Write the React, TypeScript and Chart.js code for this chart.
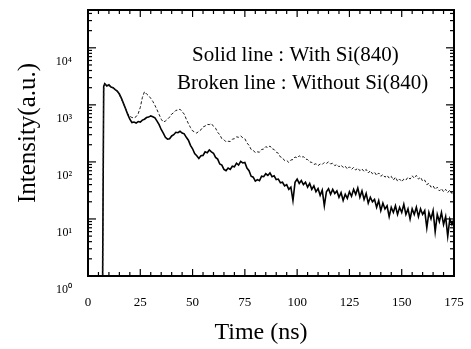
import React, { useEffect, useRef } from "react";
import { Chart, registerables } from "chart.js";

Chart.register(...registerables);

// ---- data ----
const TIME = [
  7, 7.5, 8, 9, 10, 11, 12, 13, 14, 15, 16, 17, 18, 19, 20, 21, 22, 23, 24, 25, 26, 27, 28, 29, 30,
  31, 32, 33, 34, 35, 36, 37, 38, 39, 40, 41, 42, 43, 44, 45, 46, 47, 48, 49, 50, 51, 52, 53, 54, 55,
  56, 57, 58, 59, 60, 61, 62, 63, 64, 65, 66, 67, 68, 69, 70, 71, 72, 73, 74, 75, 76, 77, 78, 79, 80,
  81, 82, 83, 84, 85, 86, 87, 88, 89, 90, 91, 92, 93, 94, 95, 96, 97, 98, 99, 100, 101, 102, 103, 104, 105,
  106, 107, 108, 109, 110, 111, 112, 113, 114, 115, 116, 117, 118, 119, 120, 121, 122, 123, 124, 125, 126, 127, 128, 129, 130,
  131, 132, 133, 134, 135, 136, 137, 138, 139, 140, 141, 142, 143, 144, 145, 146, 147, 148, 149, 150, 151, 152, 153, 154, 155,
  156, 157, 158, 159, 160, 161, 162, 163, 164, 165, 166, 167, 168, 169, 170, 171, 172, 173, 174, 175,
];

const SOLID = [
  1, 2100, 2350, 2150, 2250, 2050, 2000, 1850, 1750, 1550, 1300, 1050, 850, 680, 560, 490, 500, 480, 510, 500, 540, 560, 600, 610, 640,
  620, 590, 520, 450, 370, 320, 270, 250, 255, 285, 300, 330, 325, 345, 320, 310, 270, 240, 195, 170, 140, 128, 115, 128, 130,
  150, 145, 162, 150, 142, 120, 112, 92, 88, 74, 70, 78, 74, 84, 82, 95, 88, 102, 96, 98, 78, 70, 56, 54, 46,
  49, 47, 56, 55, 62, 58, 64, 55, 57, 49, 50, 43, 44, 38, 40, 33, 36, 21, 44, 50, 42, 47, 40, 44, 36,
  42, 33, 38, 30, 34, 26, 32, 17, 30, 34, 27, 33, 28, 31, 24, 29, 21, 27, 23, 30, 25, 33, 27, 35, 24,
  31, 22, 28, 19, 24, 20, 22, 16, 21, 14, 19, 15, 17, 11, 16, 13, 17, 12, 16, 13, 18, 12, 15, 10, 15,
  12, 16, 11, 15, 12, 14, 7, 13, 10, 14, 6, 12, 9, 13, 8, 11, 5, 10, 8, 10,
];

const BROKEN = [
  1, 1900, 2300, 2250, 2150, 2100, 1950, 1850, 1700, 1500, 1250, 1050, 850, 700, 630, 600, 590, 620, 700, 900, 1350, 1700, 1550, 1450, 1300,
  1150, 980, 820, 680, 560, 500, 520, 560, 610, 690, 730, 800, 810, 840, 760, 690, 560, 470, 400, 350, 335, 320, 345, 365, 410,
  425, 455, 450, 470, 420, 390, 330, 300, 255, 245, 225, 230, 228, 250, 255, 275, 270, 285, 265, 255, 215, 195, 165, 160, 145,
  150, 148, 165, 168, 185, 178, 190, 170, 165, 148, 142, 122, 118, 105, 106, 98, 108, 110, 122, 118, 128, 120, 124, 112, 110,
  100, 98, 90, 93, 86, 92, 90, 98, 94, 100, 92, 95, 86, 90, 82, 88, 80, 84, 75, 82, 74, 80, 72, 78, 70,
  75, 68, 74, 64, 70, 62, 66, 58, 64, 56, 60, 54, 58, 52, 56, 48, 54, 46, 50, 45, 50, 48, 54, 50, 57,
  52, 58, 50, 54, 46, 48, 40, 42, 36, 38, 33, 36, 31, 34, 30, 33, 29, 32, 28, 31,
];

const X_MIN = 0;
const X_MAX = 175;
const X_MINOR_STEP = 5;
const X_TICKS = [0, 25, 50, 75, 100, 125, 150, 175];
const X_TICK_LABELS = ["0", "25", "50", "75", "100", "125", "150", "175"];

const Y_MIN = 1;
const Y_MAX = 46000;
const Y_DECADES = [1, 10, 100, 1000, 10000];
const Y_TICK_LABELS = ["10\u2070", "10\u00B9", "10\u00B2", "10\u00B3", "10\u2074"];
const Y_MINOR_MULTIPLIERS = [1, 2, 3, 4, 5, 6, 7, 8, 9];

const X_TITLE = "Time (ns)";
const Y_TITLE = "Intensity(a.u.)";
const NOTE_LINES = ["Solid line : With Si(840)", "Broken line : Without Si(840)"];

const SERIF = '"Liberation Serif", "Times New Roman", Times, serif';

const framePlugin = {
  id: "frameAndTicks",
  afterDraw(chart: any) {
    const { ctx, chartArea: a, scales } = chart;
    const x = scales.x;
    const y = scales.y;
    ctx.save();
    ctx.strokeStyle = "#000";
    ctx.lineWidth = 1.2;
    const line = (x1: number, y1: number, x2: number, y2: number) => {
      ctx.beginPath();
      ctx.moveTo(x1, y1);
      ctx.lineTo(x2, y2);
      ctx.stroke();
    };
    x.ticks.forEach((t: any) => {
      const px = x.getPixelForValue(t.value);
      const len = X_TICKS.includes(t.value) ? 7 : 4;
      line(px, a.bottom, px, a.bottom - len);
      line(px, a.top, px, a.top + len);
    });
    y.ticks.forEach((t: any) => {
      const py = y.getPixelForValue(t.value);
      if (py < a.top - 0.5 || py > a.bottom + 0.5) return;
      const len = Y_DECADES.includes(t.value) ? 8 : 4;
      line(a.left, py, a.left + len, py);
      line(a.right, py, a.right - len, py);
    });
    ctx.lineWidth = 2;
    ctx.strokeRect(a.left, a.top, a.right - a.left, a.bottom - a.top);

    ctx.fillStyle = "#000";
    // axis titles
    ctx.font = `24px ${SERIF}`;
    ctx.textAlign = "center";
    ctx.textBaseline = "middle";
    ctx.fillText(X_TITLE, a.left + 173, a.bottom + 57);
    ctx.save();
    ctx.translate(a.left - 60, a.top + 123);
    ctx.rotate(-Math.PI / 2);
    ctx.font = `25px ${SERIF}`;
    ctx.fillText(Y_TITLE, 0, 0);
    ctx.restore();

    // annotation
    ctx.font = `21px ${SERIF}`;
    ctx.textAlign = "left";
    ctx.fillText(NOTE_LINES[0], a.left + 104, a.top + 45);
    ctx.fillText(NOTE_LINES[1], a.left + 89, a.top + 73);
    ctx.restore();
  },
};

const zeroPadding = (s: any) => {
  s.paddingTop = 0;
  s.paddingBottom = 0;
  s.paddingLeft = 0;
  s.paddingRight = 0;
};

export default function App() {
  const ref = useRef<HTMLCanvasElement | null>(null);

  useEffect(() => {
    if (!ref.current) return;
    const yTickValues: number[] = [];
    Y_DECADES.forEach((d) => {
      Y_MINOR_MULTIPLIERS.forEach((m) => {
        const v = d * m;
        if (v >= Y_MIN && v <= Y_MAX) yTickValues.push(v);
      });
    });

    const chart = new Chart(ref.current, {
      type: "line",
      data: {
        datasets: [
          {
            label: "Broken line : Without Si(840)",
            data: TIME.map((t, i) => ({ x: t, y: BROKEN[i] })),
            borderColor: "#1a1a1a",
            borderWidth: 1,
            borderDash: [3, 2],
            pointRadius: 0,
            tension: 0,
            fill: false,
          },
          {
            label: "Solid line : With Si(840)",
            data: TIME.map((t, i) => ({ x: t, y: SOLID[i] })),
            borderColor: "#000",
            borderWidth: 1.6,
            pointRadius: 0,
            tension: 0,
            fill: false,
          },
        ],
      },
      options: {
        animation: false,
        responsive: false,
        devicePixelRatio: 1,
        layout: { padding: { top: 10, right: 17, left: 0, bottom: 0 } },
        plugins: {
          legend: { display: false },
          tooltip: { enabled: false },
        },
        scales: {
          x: {
            type: "linear",
            min: X_MIN,
            max: X_MAX,
            grid: { display: false, drawTicks: false },
            border: { display: false },
            ticks: {
              stepSize: X_MINOR_STEP,
              autoSkip: false,
              maxRotation: 0,
              padding: 19,
              color: "#000",
              font: { family: SERIF, size: 13 },
              callback: (v: any) => {
                const i = X_TICKS.indexOf(Number(v));
                return i >= 0 ? X_TICK_LABELS[i] : "";
              },
            },
            afterFit: (s: any) => {
              s.height = 73;
              zeroPadding(s);
            },
          },
          y: {
            type: "logarithmic",
            min: Y_MIN,
            max: Y_MAX,
            grid: { display: false, drawTicks: false },
            border: { display: false },
            afterBuildTicks: (s: any) => {
              s.ticks = yTickValues.map((v) => ({ value: v }));
            },
            ticks: {
              autoSkip: false,
              padding: 16,
              labelOffset: 14,
              color: "#000",
              font: { family: SERIF, size: 12 },
              callback: (v: any) => {
                const i = Y_DECADES.indexOf(Number(v));
                return i >= 0 ? Y_TICK_LABELS[i] : "";
              },
            },
            afterFit: (s: any) => {
              s.width = 88;
              zeroPadding(s);
            },
          },
        },
      },
      plugins: [framePlugin],
    });
    return () => chart.destroy();
  }, []);

  return (
    <div style={{ position: "absolute", left: 0, top: 0, width: 471, height: 349, background: "#fff" }}>
      <canvas ref={ref} width={471} height={349} style={{ width: 471, height: 349, display: "block" }} />
    </div>
  );
}
